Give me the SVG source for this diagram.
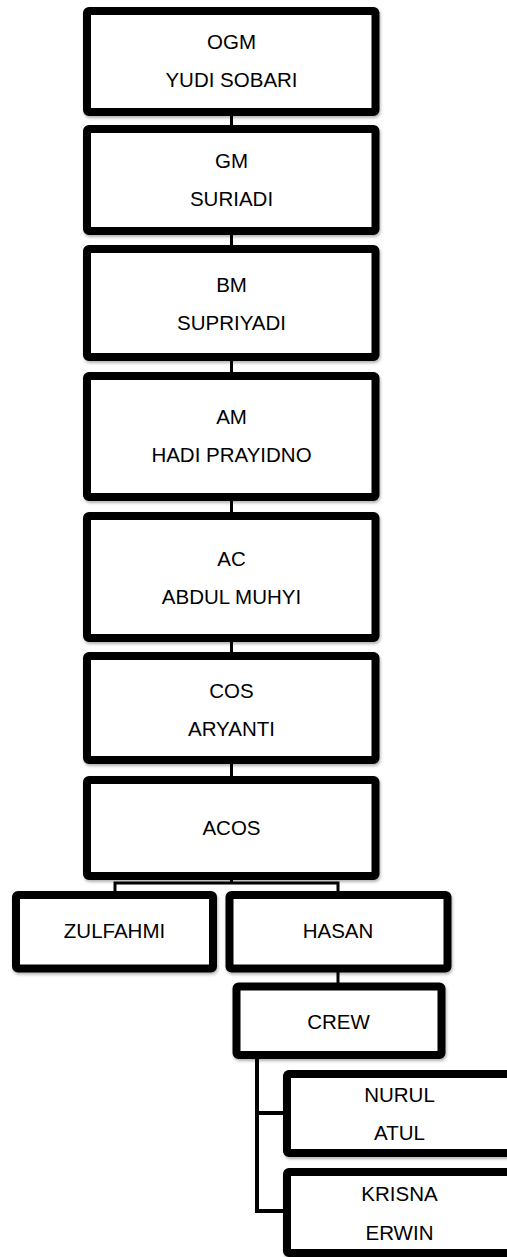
<svg xmlns="http://www.w3.org/2000/svg" width="507" height="1257" viewBox="0 0 507 1257">
<defs>
<filter id="sh" x="-10%" y="-10%" width="120%" height="130%">
<feDropShadow dx="1" dy="2" stdDeviation="1.5" flood-color="#000" flood-opacity="0.3"/>
</filter>
</defs>
<style>
.box{fill:#fff;stroke:#000;stroke-width:8;filter:url(#sh)}
.t{font-family:"Liberation Sans",Arial,sans-serif;font-size:20.5px;fill:#000;text-anchor:middle}
.c{fill:none;stroke:#000;stroke-width:3}
.c2{fill:none;stroke:#000;stroke-width:4}
</style>
<rect width="507" height="1257" fill="#fff"/>
<g id="connectors">
<line class="c" x1="231.5" y1="112" x2="231.5" y2="129"/>
<line class="c" x1="231.5" y1="231" x2="231.5" y2="249"/>
<line class="c" x1="231.5" y1="357" x2="231.5" y2="376"/>
<line class="c" x1="231.5" y1="497" x2="231.5" y2="516"/>
<line class="c" x1="231.5" y1="638" x2="231.5" y2="656"/>
<line class="c" x1="231.5" y1="760" x2="231.5" y2="780"/>
<path class="c" d="M231.5 876 V883 M115 895 V883 H338 V895"/>
<line class="c" x1="338" y1="968" x2="338" y2="986"/>
<path class="c2" d="M257 1055 V1211 H287 M257 1113 H287"/>
</g>
<g id="ogm"><rect class="box" x="87" y="11" width="288.5" height="101" rx="2"/><text class="t" x="231.5" y="49">OGM</text><text class="t" x="231.5" y="87">YUDI SOBARI</text></g>
<g id="gm"><rect class="box" x="87" y="129" width="288.5" height="102" rx="2"/><text class="t" x="231.5" y="168">GM</text><text class="t" x="231.5" y="206">SURIADI</text></g>
<g id="bm"><rect class="box" x="87" y="249" width="288.5" height="108" rx="2"/><text class="t" x="231.5" y="291.5">BM</text><text class="t" x="231.5" y="329.5">SUPRIYADI</text></g>
<g id="am"><rect class="box" x="87" y="376" width="288.5" height="121" rx="2"/><text class="t" x="231.5" y="424">AM</text><text class="t" x="231.5" y="461.5">HADI PRAYIDNO</text></g>
<g id="ac"><rect class="box" x="87" y="516" width="288.5" height="122" rx="2"/><text class="t" x="231.5" y="565.5">AC</text><text class="t" x="231.5" y="604">ABDUL MUHYI</text></g>
<g id="cos"><rect class="box" x="87" y="656" width="288.5" height="104" rx="2"/><text class="t" x="231.5" y="697.5">COS</text><text class="t" x="231.5" y="736">ARYANTI</text></g>
<g id="acos"><rect class="box" x="87" y="780" width="288.5" height="96" rx="2"/><text class="t" x="231.5" y="835">ACOS</text></g>
<g id="zulfahmi"><rect class="box" x="16" y="895" width="197" height="73.5" rx="2"/><text class="t" x="114.5" y="937.5">ZULFAHMI</text></g>
<g id="hasan"><rect class="box" x="229.5" y="895" width="218" height="73.5" rx="2"/><text class="t" x="338" y="937.5">HASAN</text></g>
<g id="crew"><rect class="box" x="236.5" y="986.5" width="205" height="68.5" rx="2"/><text class="t" x="338.5" y="1028.5">CREW</text></g>
<g id="nurul"><rect class="box" x="287" y="1074" width="225" height="79" rx="2"/><text class="t" x="399.5" y="1101.5">NURUL</text><text class="t" x="399.5" y="1140">ATUL</text></g>
<g id="krisna"><rect class="box" x="287" y="1172" width="225" height="81" rx="2"/><text class="t" x="399.5" y="1201">KRISNA</text><text class="t" x="399.5" y="1239.5">ERWIN</text></g>
</svg>
